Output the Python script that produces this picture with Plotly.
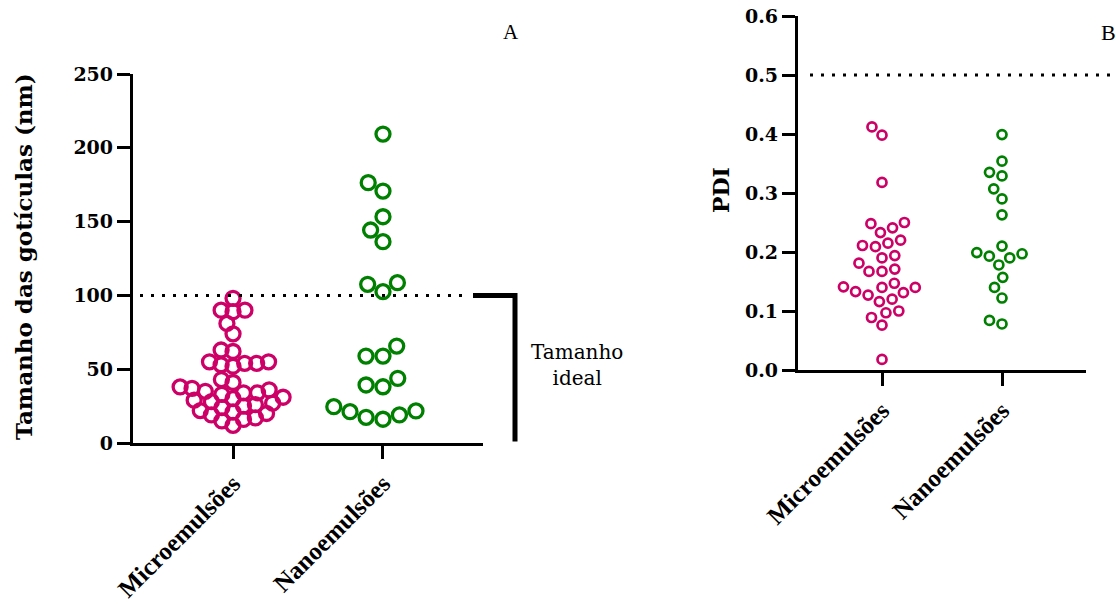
import math
import numpy as np
import plotly.graph_objects as go

# ---- data ----
categories = ["Microemulsões", "Nanoemulsões"]

size_micro = [98, 90, 89, 90, 81, 74, 63, 62, 55, 53, 54, 52, 54, 55,
              43, 41, 38, 37, 36, 35, 34, 34, 33, 31, 30, 29, 28, 27, 26,
              25, 24, 22, 21, 20, 19, 17, 16, 15, 12]
size_nano = [209.3, 176.4, 170.7, 153.3, 144.3, 136.4, 102.5, 107.5, 108.6,
             65.7, 58.9, 58.9, 43.8, 39.3, 38.1, 24.6, 21.7, 21.2, 17.4, 19.0, 16.1]

pdi_micro = [0.412, 0.398, 0.318, 0.250, 0.248, 0.241, 0.233, 0.220, 0.215,
             0.211, 0.209, 0.194, 0.190, 0.181, 0.167, 0.171, 0.167, 0.147,
             0.141, 0.140, 0.140, 0.127, 0.131, 0.133, 0.116, 0.120, 0.100,
             0.097, 0.089, 0.076, 0.018]
pdi_nano = [0.399, 0.354, 0.335, 0.329, 0.307, 0.290, 0.263, 0.193, 0.199,
            0.197, 0.178, 0.210, 0.190, 0.157, 0.140, 0.122, 0.078, 0.084]

size_ticks = [0, 50, 100, 150, 200, 250]
pdi_ticks = [0.0, 0.1, 0.2, 0.3, 0.4, 0.5, 0.6]
size_limit = 100
pdi_limit = 0.5

# ---- geometry (pixels) ----
W, H = 1116, 604
MAGENTA = "#CC0066"
GREEN = "#008000"

# panel A
ax_l, ax_r, ay_b, ay_t = 133, 483, 443, 74
a_xrange = [-0.667, 1.667]
a_yrange = [0, 250]
# panel B
bx_l, bx_r, by_b, by_t = 798, 1086, 370, 16
b_xrange = [-0.7, 1.7]
b_yrange = [0, 0.6]


def swarm(values, px_per_unit, diam):
    """Greedy beeswarm: horizontal pixel offsets so markers don't collide."""
    ys = np.asarray(values, dtype=float) * px_per_unit
    order = np.argsort(ys, kind="stable")
    placed = []
    xs = np.zeros(len(ys))
    for i in order:
        y = ys[i]
        cands = [0.0]
        for xj, yj in placed:
            dy = abs(y - yj)
            if dy < diam:
                dx = math.sqrt(diam ** 2 - dy ** 2)
                cands += [xj - dx, xj + dx]
        cands.sort(key=abs)
        for c in cands:
            if all((c - xj) ** 2 + (y - yj) ** 2 >= diam ** 2 - 1e-6 for xj, yj in placed):
                xs[i] = c
                break
        placed.append((xs[i], y))
    return xs


a_px_x = (ax_r - ax_l) / (a_xrange[1] - a_xrange[0])
a_px_y = (ay_b - ay_t) / (a_yrange[1] - a_yrange[0])
b_px_x = (bx_r - bx_l) / (b_xrange[1] - b_xrange[0])
b_px_y = (by_b - by_t) / (b_yrange[1] - b_yrange[0])

fig = go.Figure()


def add_group(vals, idx, color, px_x, px_y, diam, size, lw, xa, ya):
    off = swarm(vals, px_y, diam) / px_x
    fig.add_trace(go.Scatter(
        x=idx + off, y=vals, mode="markers", xaxis=xa, yaxis=ya,
        marker=dict(symbol="circle-open", size=size, color=color,
                    line=dict(width=lw, color=color)),
        showlegend=False, hoverinfo="y"))


add_group(size_micro, 0, MAGENTA, a_px_x, a_px_y, 12, 14, 3.3, "x", "y")
add_group(size_nano, 1, GREEN, a_px_x, a_px_y, 17, 14, 3.3, "x", "y")
add_group(pdi_micro, 0, MAGENTA, b_px_x, b_px_y, 13, 9, 2.7, "x2", "y2")
add_group(pdi_nano, 1, GREEN, b_px_x, b_px_y, 13, 9, 2.7, "x2", "y2")

tick_font = dict(family="DejaVu Serif", size=19, color="black", weight="bold")
cat_font = dict(family="Liberation Serif", size=25, color="black", weight="bold")
axis_common = dict(showline=True, linewidth=3.3, linecolor="black", ticks="outside",
                   ticklen=13, tickwidth=3.3, tickcolor="black", showgrid=False,
                   zeroline=False, fixedrange=True, automargin=False)

fig.update_layout(
    width=W, height=H, margin=dict(l=0, r=0, t=0, b=0, autoexpand=False),
    paper_bgcolor="white", plot_bgcolor="white",
    xaxis=dict(domain=[ax_l / W, ax_r / W], range=a_xrange, anchor="y",
               tickvals=[0, 1], ticktext=categories, tickangle=-45,
               tickfont=cat_font, **axis_common),
    yaxis=dict(domain=[(H - ay_b) / H, (H - ay_t) / H], range=a_yrange, anchor="x",
               tickvals=size_ticks, tickfont=tick_font, **axis_common),
    xaxis2=dict(domain=[bx_l / W, bx_r / W], range=b_xrange, anchor="y2",
                tickvals=[0, 1], ticktext=categories, tickangle=-45,
                tickfont=cat_font, **axis_common),
    yaxis2=dict(domain=[(H - by_b) / H, (H - by_t) / H], range=b_yrange, anchor="x2",
                tickvals=pdi_ticks, tickformat=".1f", tickfont=tick_font, **axis_common),
)

dots = dict(color="black", width=3, dash="3px,8px")
# reference lines
fig.add_shape(type="line", xref="paper", yref="y", x0=140 / W, x1=468 / W,
              y0=size_limit, y1=size_limit, line=dots)
fig.add_shape(type="line", xref="paper", yref="y2", x0=810 / W, x1=1116 / W,
              y0=pdi_limit, y1=pdi_limit, line=dots)
# bracket marking the ideal size range
fig.add_shape(type="path", xref="paper", yref="y",
              path=f"M {473 / W},{size_limit} L {515 / W},{size_limit} L {515 / W},1",
              line=dict(color="black", width=5))


def label(text, px, py, font, angle=0):
    fig.add_annotation(text=text, xref="paper", yref="paper", x=px / W, y=(H - py) / H,
                       xanchor="center", yanchor="middle", textangle=angle,
                       showarrow=False, font=font)


label("Tamanho<br>ideal", 577, 365, dict(family="DejaVu Serif", size=20, color="black"))
label("A", 511, 32, dict(family="Liberation Serif", size=21, color="black"))
label("B", 1108, 32, dict(family="Liberation Serif", size=22, color="black"))
label("Tamanho das gotículas (nm)", 23, 257,
      dict(family="DejaVu Serif", size=23, color="black", weight="bold"), -90)
label("PDI", 721, 190, dict(family="DejaVu Serif", size=22, color="black", weight="bold"), -90)

fig.write_html("out.html")
